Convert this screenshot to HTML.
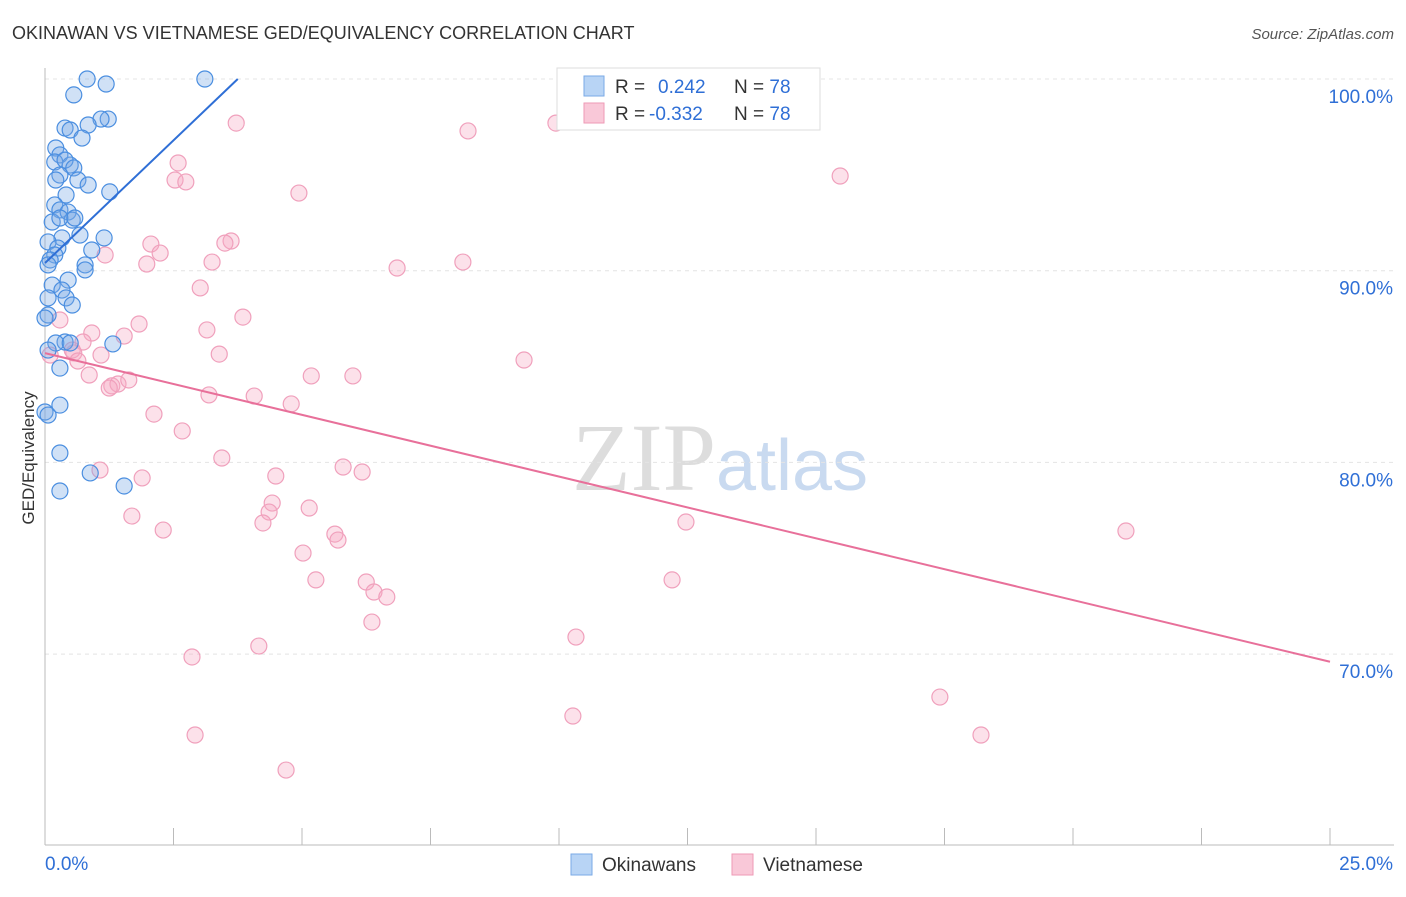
<!DOCTYPE html>
<html><head><meta charset="utf-8"><style>
body{margin:0;background:#fff;font-family:"Liberation Sans",sans-serif}
</style></head><body>
<svg width="1406" height="892" xmlns="http://www.w3.org/2000/svg" font-family="Liberation Sans, sans-serif">
<text x="12" y="39" font-size="18" fill="#333">OKINAWAN VS VIETNAMESE GED/EQUIVALENCY CORRELATION CHART</text>
<text x="1394" y="39" font-size="15" fill="#555" text-anchor="end" font-style="italic">Source: ZipAtlas.com</text>
<text x="720" y="490" font-size="96" text-anchor="middle" fill="#ddd" font-family="Liberation Serif, serif">ZIP<tspan fill="#c9daf0" font-family="Liberation Sans, sans-serif" font-size="72">atlas</tspan></text>
<g id="grid"></g>
<g id="axes"></g>
<text transform="translate(34,458) rotate(-90)" font-size="17" fill="#333" text-anchor="middle">GED/Equivalency</text>
<g id="pts"></g>
<g id="trend"></g>
<g>
<rect x="557" y="68" width="263" height="62" fill="#fff" stroke="#ddd"/>
<rect x="584" y="76" width="20" height="20" fill="#b8d4f5" stroke="#7aaae6"/>
<rect x="584" y="103" width="20" height="20" fill="#f9c8d8" stroke="#ee9ab6"/>
<text x="615" y="93" font-size="19" fill="#333">R = <tspan fill="#2f6fd6" x="658">0.242</tspan><tspan x="734">N = </tspan><tspan fill="#2f6fd6">78</tspan></text>
<text x="615" y="120" font-size="19" fill="#333">R = <tspan fill="#2f6fd6" x="649">-0.332</tspan><tspan x="734">N = </tspan><tspan fill="#2f6fd6">78</tspan></text>
</g>
<g>
<rect x="571" y="854" width="21" height="21" fill="#b8d4f5" stroke="#7aaae6"/>
<text x="602" y="871" font-size="19" fill="#333">Okinawans</text>
<rect x="732" y="854" width="21" height="21" fill="#f9c8d8" stroke="#ee9ab6"/>
<text x="763" y="871" font-size="19" fill="#333">Vietnamese</text>
</g>
</svg>
<script>
const yTicks=[100,90,80,70];
const yTickLabels=["100.0%","90.0%","80.0%","70.0%"];
const xEndLabels=["0.0%","25.0%"];
const bluePx=[[87,79],[106,84],[205,79],[74,95],[108,119],[101,119],[88,125],[65,128],[70,130],[82,138],[56,148],[60,155],[55,162],[70,165],[65,160],[74,168],[60,175],[78,180],[88,185],[56,180],[110,192],[66,195],[55,205],[60,210],[68,212],[72,220],[52,222],[60,218],[75,218],[80,235],[62,238],[104,238],[48,242],[58,248],[92,250],[55,255],[50,260],[48,265],[85,265],[85,270],[68,280],[52,285],[62,290],[48,298],[66,298],[72,305],[48,315],[45,318],[65,342],[56,343],[113,344],[70,343],[48,350],[60,368],[45,412],[48,415],[60,405],[60,453],[90,473],[124,486],[60,491]];
const pinkPx=[[236,123],[468,131],[556,123],[840,176],[178,163],[175,180],[186,182],[299,193],[151,244],[160,253],[147,264],[231,241],[225,243],[212,262],[397,268],[463,262],[105,255],[200,288],[243,317],[139,324],[207,330],[60,320],[92,333],[124,336],[83,342],[74,353],[101,355],[219,354],[524,360],[89,375],[311,376],[353,376],[112,386],[118,384],[129,380],[109,388],[209,395],[254,396],[291,404],[154,414],[182,431],[222,458],[100,470],[142,478],[343,467],[362,472],[276,476],[272,503],[309,508],[269,512],[263,523],[132,516],[163,530],[686,522],[1126,531],[335,534],[338,540],[303,553],[316,580],[366,582],[374,592],[387,597],[672,580],[372,622],[576,637],[192,657],[259,646],[940,697],[573,716],[195,735],[981,735],[286,770],[72,350],[50,355],[78,361]];
const blueX=bluePx.map(p=>+((p[0]-45)/1285*25).toFixed(2));
const blueY=bluePx.map(p=>+(100-(p[1]-79)/19.17).toFixed(2));
const pinkX=pinkPx.map(p=>+((p[0]-45)/1285*25).toFixed(2));
const pinkY=pinkPx.map(p=>+(100-(p[1]-79)/19.17).toFixed(2));
const blueTrend=[[0,90.4],[3.75,100]];
const pinkTrend=[[0,85.7],[25,69.6]];
const X=v=>45+v/25*1285, Y=v=>79+(100-v)*19.17;
const NS="http://www.w3.org/2000/svg";
function mk(t,a,p){const e=document.createElementNS(NS,t);for(const k in a)e.setAttribute(k,a[k]);p.appendChild(e);return e;}
const grid=document.getElementById('grid'),axes=document.getElementById('axes');
yTicks.forEach((t,i)=>{const l=mk('line',{x1:45,x2:1394,y1:Y(t),y2:Y(t),stroke:'#e4e4e4','stroke-dasharray':'4,4'},grid);

const tx=mk('text',{x:1393,y:Y(t)+24,'font-size':19,fill:'#2f6fd6','text-anchor':'end'},axes);tx.textContent=yTickLabels[i];
});
const xa=mk('line',{x1:45,x2:1394,y1:845,y2:845,stroke:'#bbb'},axes);

const ya=mk('line',{x1:45,x2:45,y1:68,y2:845,stroke:'#bbb'},axes);

for(let i=1;i<=10;i++){const t=mk('line',{x1:X(i*2.5),x2:X(i*2.5),y1:828,y2:845,stroke:'#bbb'},axes);
}
const l0=mk('text',{x:45,y:870,'font-size':19,fill:'#2f6fd6'},axes);l0.textContent=xEndLabels[0];

const l1=mk('text',{x:1393,y:870,'font-size':19,fill:'#2f6fd6','text-anchor':'end'},axes);l1.textContent=xEndLabels[1];

const pts=document.getElementById('pts');
pinkX.forEach((x,i)=>{const c=mk('circle',{cx:X(x),cy:Y(pinkY[i]),r:8,fill:'rgba(246,170,196,0.35)',stroke:'#f0a0bc','stroke-width':1.2},pts);
});
blueX.forEach((x,i)=>{const c=mk('circle',{cx:X(x),cy:Y(blueY[i]),r:8,fill:'rgba(120,170,230,0.35)',stroke:'#4a8ee0','stroke-width':1.2},pts);
});
const tr=document.getElementById('trend');
const bt=mk('line',{x1:X(blueTrend[0][0]),y1:Y(blueTrend[0][1]),x2:X(blueTrend[1][0]),y2:Y(blueTrend[1][1]),stroke:'#2f6fd6','stroke-width':2},tr);

const pt=mk('line',{x1:X(pinkTrend[0][0]),y1:Y(pinkTrend[0][1]),x2:X(pinkTrend[1][0]),y2:Y(pinkTrend[1][1]),stroke:'#e8709a','stroke-width':2},tr);

</script>
</body></html>
